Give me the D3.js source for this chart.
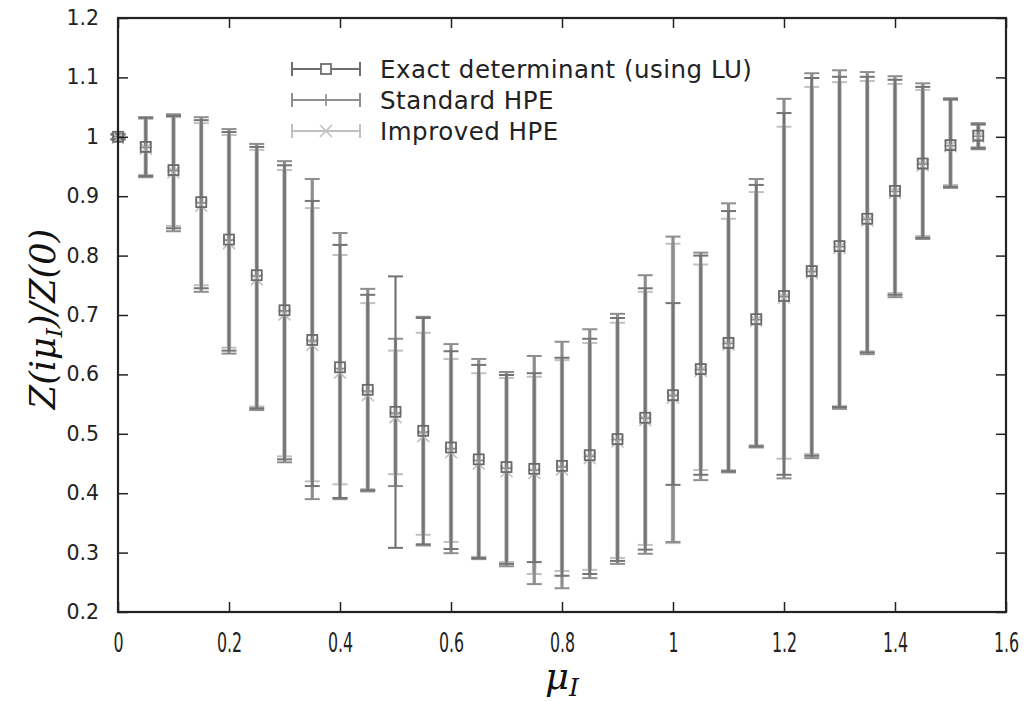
<!DOCTYPE html>
<html>
<head>
<meta charset="utf-8">
<script src="https://cdn.jsdelivr.net/npm/d3@7"></script>
<style>
  html, body { margin: 0; padding: 0; background: #fff; }
  svg { display: block; }
</style>
</head>
<body>
<svg id="chart" width="1029" height="701"></svg>
<script>
// ---------------- data ----------------
const mu = [0.00,0.05,0.10,0.15,0.20,0.25,0.30,0.35,0.40,0.45,0.50,0.55,0.60,0.65,0.70,0.75,
            0.80,0.85,0.90,0.95,1.00,1.05,1.10,1.15,1.20,1.25,1.30,1.35,1.40,1.45,1.50,1.55];

const exactVal = [1.000,0.983,0.944,0.890,0.827,0.767,0.708,0.658,0.612,0.574,0.537,0.505,0.477,0.457,0.444,0.441,
                  0.446,0.464,0.491,0.527,0.565,0.609,0.653,0.693,0.732,0.774,0.816,0.862,0.909,0.955,0.986,1.002];
const exactHi  = [1.004,1.032,1.035,1.028,1.008,0.983,0.952,0.892,0.818,0.734,0.765,0.695,0.639,0.616,0.599,0.602,
                  0.628,0.660,0.695,0.745,0.720,0.800,0.875,0.919,1.040,1.099,1.101,1.101,1.096,1.084,1.063,1.021];
const exactLo  = [0.996,0.934,0.846,0.745,0.640,0.543,0.457,0.412,0.392,0.405,0.308,0.314,0.306,0.291,0.281,0.284,
                  0.261,0.264,0.286,0.305,0.414,0.431,0.437,0.479,0.431,0.463,0.545,0.637,0.734,0.830,0.916,0.981];

const stdVal   = [1.000,0.982,0.943,0.889,0.826,0.766,0.707,0.657,0.610,0.572,0.535,0.503,0.475,0.455,0.442,0.439,
                  0.444,0.462,0.490,0.526,0.564,0.608,0.652,0.692,0.731,0.773,0.815,0.861,0.908,0.954,0.985,1.001];
const stdHi    = [1.005,1.033,1.038,1.033,1.013,0.988,0.959,0.929,0.838,0.744,0.660,0.697,0.651,0.626,0.604,0.631,
                  0.655,0.676,0.702,0.767,0.832,0.805,0.888,0.929,1.064,1.107,1.112,1.109,1.102,1.090,1.065,1.023];
const stdLo    = [0.995,0.932,0.841,0.739,0.635,0.540,0.452,0.390,0.390,0.403,0.412,0.312,0.299,0.289,0.277,0.247,
                  0.240,0.257,0.281,0.298,0.318,0.422,0.435,0.477,0.425,0.459,0.542,0.634,0.730,0.828,0.914,0.979];

const impVal   = [0.998,0.980,0.940,0.884,0.821,0.760,0.701,0.650,0.603,0.565,0.528,0.496,0.469,0.450,0.437,0.434,
                  0.440,0.459,0.487,0.523,0.561,0.606,0.650,0.690,0.729,0.771,0.813,0.859,0.906,0.952,0.984,1.000];
const impHi    = [1.003,1.030,1.033,1.023,1.003,0.978,0.944,0.880,0.801,0.720,0.640,0.670,0.626,0.602,0.594,0.596,
                  0.624,0.653,0.687,0.739,0.820,0.785,0.862,0.907,1.017,1.084,1.092,1.094,1.089,1.079,1.062,1.020];
const impLo    = [0.997,0.936,0.850,0.750,0.645,0.546,0.462,0.420,0.415,0.407,0.432,0.330,0.318,0.293,0.284,0.264,
                  0.269,0.271,0.291,0.313,0.316,0.439,0.439,0.481,0.458,0.466,0.547,0.639,0.737,0.833,0.919,0.983];

const xTicks = [0,0.2,0.4,0.6,0.8,1,1.2,1.4,1.6];
const yTicks = [0.2,0.3,0.4,0.5,0.6,0.7,0.8,0.9,1,1.1,1.2];
const seriesNames = ["Exact determinant (using LU)", "Standard HPE", "Improved HPE"];

(function draw() {
  const svg = d3.select("#chart");
  const L = 118, R = 1006, T = 18, B = 612;
  const x = d3.scaleLinear().domain([0, 1.6]).range([L, R]);
  const y = d3.scaleLinear().domain([0.2, 1.2]).range([B, T]);

  const colExact = "#747474", colStd = "#8e8e8e", colImp = "#c0c0c0";
  const capW = 7.5;

  function errorBars(lo, hi, color, width, capWidth) {
    const g = svg.append("g");
    mu.forEach((m, i) => {
      const cx = x(m);
      g.append("line").attr("x1", cx).attr("x2", cx).attr("y1", y(lo[i])).attr("y2", y(hi[i]))
        .attr("stroke", color).attr("stroke-width", width);
      [lo[i], hi[i]].forEach(v => {
        g.append("line").attr("x1", cx - capW).attr("x2", cx + capW).attr("y1", y(v)).attr("y2", y(v))
          .attr("stroke", color).attr("stroke-width", capWidth);
      });
    });
    return g;
  }

  errorBars(impLo, impHi, colImp, 4.4, 2);
  errorBars(stdLo, stdHi, colStd, 3.2, 2);
  errorBars(exactLo, exactHi, colExact, 2.2, 2);

  function square(g, cx, cy, c, fill) {
    g.append("rect").attr("x", cx - 5).attr("y", cy - 5).attr("width", 10).attr("height", 10)
      .attr("fill", fill || "none").attr("stroke", c).attr("stroke-width", 1.8);
  }
  function plus(g, cx, cy, c) {
    g.append("path").attr("d", `M${cx-6},${cy}H${cx+6}M${cx},${cy-6}V${cy+6}`)
      .attr("stroke", c).attr("stroke-width", 1.6).attr("fill", "none");
  }
  function cross(g, cx, cy, c) {
    g.append("path").attr("d", `M${cx-6},${cy-6}L${cx+6},${cy+6}M${cx-6},${cy+6}L${cx+6},${cy-6}`)
      .attr("stroke", c).attr("stroke-width", 1.6).attr("fill", "none");
  }
  const gm = svg.append("g");
  mu.forEach((m, i) => cross(gm, x(m), y(impVal[i]), colImp));
  mu.forEach((m, i) => plus(gm, x(m), y(stdVal[i]), colStd));
  mu.forEach((m, i) => square(gm, x(m), y(exactVal[i]), "#6a6a6a"));

  // axes
  const axisCol = "#222";
  const tickLen = 10;
  const ga = svg.append("g");
  const fmt = d => (d === 0 || d === 1) ? String(d) : d3.format(".1f")(d);
  const axB = d3.axisBottom(x).tickValues(xTicks).tickSize(-tickLen).tickFormat(fmt).tickPadding(20);
  const axT = d3.axisTop(x).tickValues(xTicks).tickSize(-tickLen).tickFormat("");
  const axL = d3.axisLeft(y).tickValues(yTicks).tickSize(-tickLen).tickFormat(fmt).tickPadding(19);
  const axR = d3.axisRight(y).tickValues(yTicks).tickSize(-tickLen).tickFormat("");

  const gb = ga.append("g").attr("transform", `translate(0,${B})`).call(axB);
  const gt = ga.append("g").attr("transform", `translate(0,${T})`).call(axT);
  const gl = ga.append("g").attr("transform", `translate(${L},0)`).call(axL);
  const gr = ga.append("g").attr("transform", `translate(${R},0)`).call(axR);
  [gb, gt, gl, gr].forEach(g => {
    g.select(".domain").remove();
    g.selectAll(".tick line").attr("stroke", axisCol).attr("stroke-width", 1.5);
  });
  // condensed, tall x tick labels
  gb.selectAll(".tick text").attr("fill", "#222")
    .attr("font-family", "'DejaVu Sans', sans-serif")
    .attr("font-size", 24).attr("transform", "scale(0.66,1.12)")
    .attr("y", 35.5).attr("dy", 0);
  gl.selectAll(".tick text").attr("fill", "#222").attr("font-family", "'DejaVu Sans', sans-serif").attr("font-size", 20.5);

  ga.append("rect").attr("x", L).attr("y", T).attr("width", R - L).attr("height", B - T)
    .attr("fill", "none").attr("stroke", axisCol).attr("stroke-width", 2.2);

  const title = svg.append("text")
    .attr("transform", `translate(55,${(T + B) / 2 + 4}) rotate(-90)`)
    .attr("text-anchor", "middle").attr("font-family", "'DejaVu Serif', 'Liberation Serif', serif")
    .attr("font-style", "italic").attr("font-size", 35).attr("fill", "#111");
  title.append("tspan").text("Z(iμ");
  title.append("tspan").attr("font-size", 23).attr("dy", 7).text("I");
  title.append("tspan").attr("dy", -7).text(")/Z(0)");

  const xt = svg.append("text").attr("x", 562).attr("y", 689).attr("text-anchor", "middle")
    .attr("font-family", "'DejaVu Serif', 'Liberation Serif', serif").attr("font-style", "italic")
    .attr("font-size", 37).attr("fill", "#111");
  xt.append("tspan").text("μ");
  xt.append("tspan").attr("font-size", 25).attr("dy", 7).text("I");

  // legend
  const lg = svg.append("g");
  const legCols = ["#6e6e6e", colStd, colImp];
  const legY = [69, 100, 131];
  const lx1 = 292, lx2 = 360, lmid = 326;
  seriesNames.forEach((name, i) => {
    const yy = legY[i], c = legCols[i];
    lg.append("line").attr("x1", lx1).attr("x2", lx2).attr("y1", yy).attr("y2", yy).attr("stroke", c).attr("stroke-width", 2);
    [lx1, lx2].forEach(xx => lg.append("line").attr("x1", xx).attr("x2", xx).attr("y1", yy - 7).attr("y2", yy + 7)
      .attr("stroke", c).attr("stroke-width", 2));
    if (i === 0) square(lg, lmid, yy, c, "#fff");
    else if (i === 1) plus(lg, lmid, yy, c);
    else cross(lg, lmid, yy, c);
    lg.append("text").attr("x", 380).attr("y", yy).attr("dy", "0.36em")
      .attr("font-family", "'DejaVu Sans', sans-serif").attr("font-size", 24.5)
      .attr("letter-spacing", 0.5).attr("fill", "#222").text(name);
  });
})();
</script>
</body>
</html>
